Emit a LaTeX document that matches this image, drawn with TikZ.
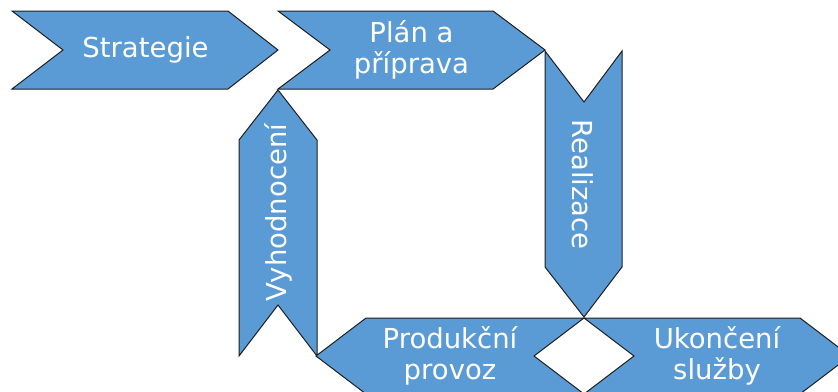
\documentclass[tikz,border=0pt]{standalone}
\usepackage{fontspec}
\setmainfont{DejaVu Sans}
\definecolor{boxblue}{RGB}{91,155,213}
\definecolor{edgecol}{RGB}{30,30,30}
\begin{document}
\begin{tikzpicture}[x=1pt,y=-1pt,
  shapebox/.style={fill=boxblue,draw=edgecol,line width=1pt,line join=miter},
  lbl/.style={text=white,font=\fontsize{27.5}{31.5}\selectfont,align=center,inner sep=0pt}]
\useasboundingbox (0,0) rectangle (838,391);
\clip (0,0) rectangle (838,391);
% chevrons
\draw[shapebox] (12,11) -- (228,11) -- (278,50) -- (228,89) -- (12,89) -- (63,50) -- cycle;
\draw[shapebox] (278,11) -- (493,11) -- (545,50) -- (493,89) -- (278,89) -- (330,50) -- cycle;
\draw[shapebox] (545,51) -- (584,102) -- (622,51) -- (622,267) -- (584,317) -- (545,267) -- cycle;
\draw[shapebox] (278,90) -- (317,140) -- (317,356) -- (278,305) -- (239,356) -- (239,140) -- cycle;
\draw[shapebox] (316,356) -- (366,318) -- (584,318) -- (534,356) -- (584,394) -- (366,394) -- cycle;
\draw[shapebox] (584,318) -- (800,318) -- (850,356) -- (800,394) -- (584,394) -- (634,356) -- cycle;
% labels
\node[lbl] (strategie) at (145.5,50) {Strategie};
\node[lbl] (plan) at (411.5,50) {Plán a\\příprava};
\node[lbl,rotate=-90] (realizace) at (583,184.5) {Realizace};
\node[lbl,rotate=90] (vyhodnoceni) at (278,212.5) {Vyhodnocení};
\node[lbl] (produkcni) at (450,356) {Produkční\\provoz};
\node[lbl] (ukonceni) at (717,356) {Ukončení\\služby};
\end{tikzpicture}
\end{document}
